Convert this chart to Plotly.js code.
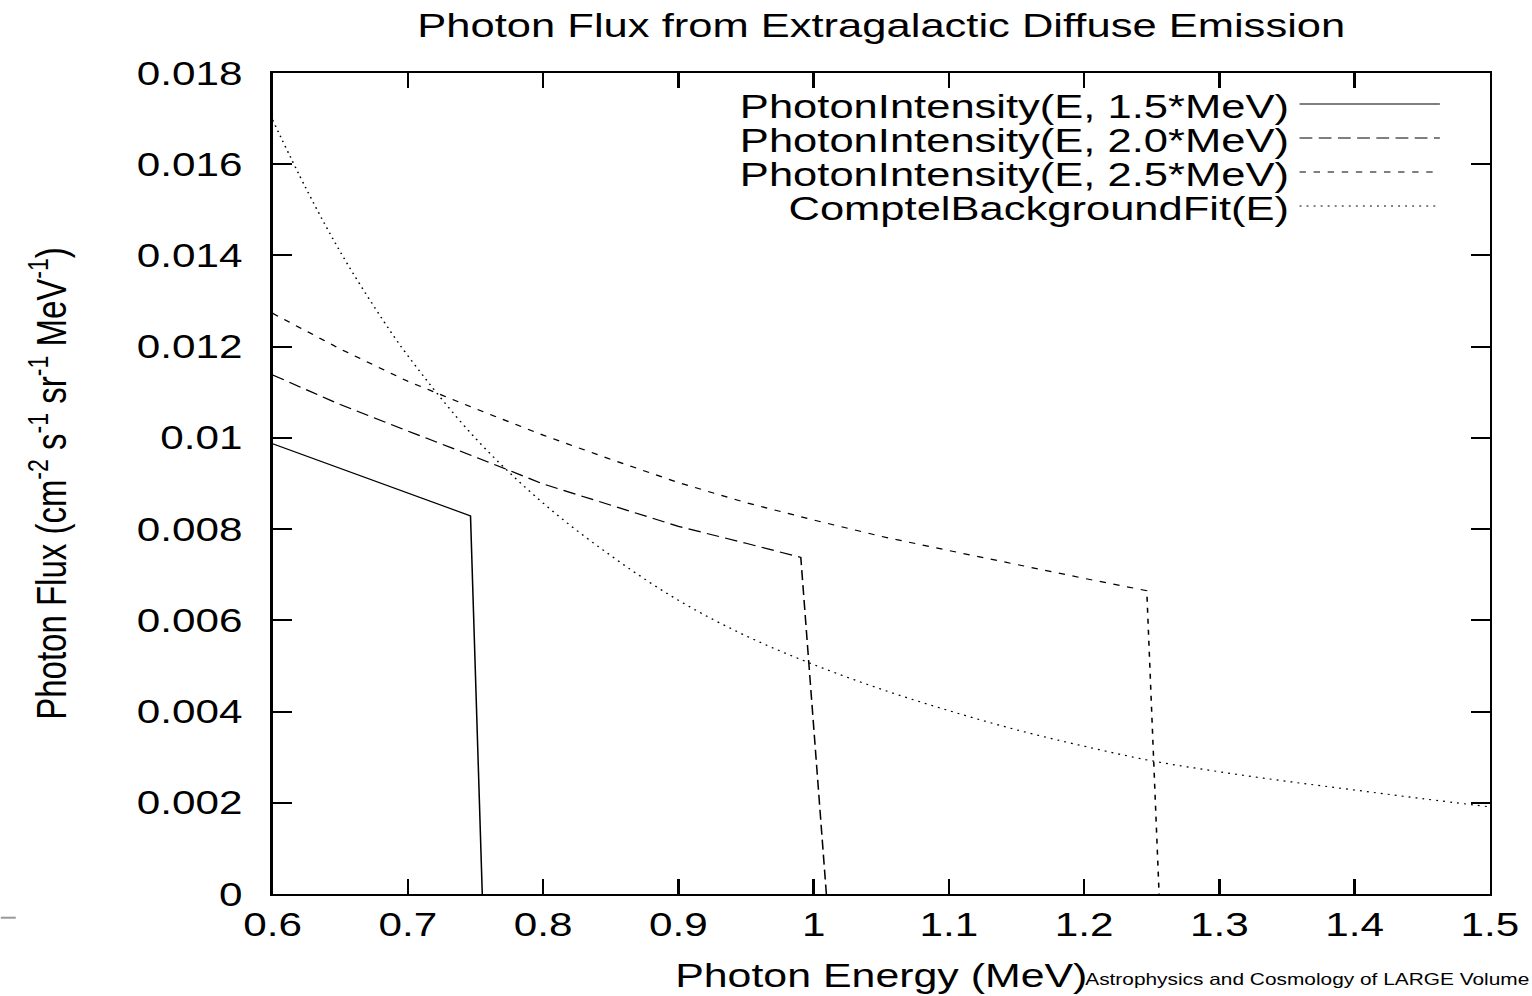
<!DOCTYPE html>
<html>
<head>
<meta charset="utf-8">
<script src="https://cdn.plot.ly/plotly-3.0.1.min.js"></script>
<style>
html, body { margin: 0; padding: 0; background: #fff; overflow: hidden; }
#wrap { width: 1532px; height: 996px; overflow: hidden; position: relative; }
#chart { width: 1197px; height: 996px; transform: scaleX(1.28); transform-origin: 0 0; }
</style>
</head>
<body>
<div id="wrap"><div id="chart"></div></div>
<script>
// ---- data ----
const seriesNames = [
  'PhotonIntensity(E, 1.5*MeV)',
  'PhotonIntensity(E, 2.0*MeV)',
  'PhotonIntensity(E, 2.5*MeV)',
  'ComptelBackgroundFit(E)'
];
const energy15 = [0.6, 0.65, 0.7, 0.7463, 0.755];
const flux15   = [0.00987, 0.00933, 0.00878, 0.00829, 0];

const energy20 = [0.6, 0.65, 0.7, 0.75, 0.8, 0.85, 0.9, 0.95, 0.9905, 1.0094];
const flux20   = [0.01138, 0.01073, 0.01015, 0.00958, 0.00899, 0.00853, 0.00806, 0.00769, 0.00738, 0];

const energy25 = [0.6, 0.65, 0.7, 0.75, 0.8, 0.85, 0.9, 0.95, 1.0, 1.05, 1.1, 1.15, 1.2, 1.2463, 1.2554];
const flux25   = [0.01273, 0.01195, 0.01124, 0.01064, 0.01006, 0.00953, 0.00902, 0.00858, 0.00820, 0.00784, 0.00753, 0.00722, 0.00692, 0.00665, 0];

const energyBg = [0.6, 0.625, 0.65, 0.675, 0.7, 0.75, 0.8, 0.85, 0.9, 0.95, 1.0, 1.05, 1.1, 1.15, 1.2, 1.25, 1.3, 1.35, 1.4, 1.45, 1.5];
const fluxBg   = [0.01697, 0.01545, 0.01408, 0.01288, 0.01180, 0.00999, 0.00857, 0.00742, 0.00644, 0.00566, 0.00503, 0.00449, 0.00402, 0.00360, 0.00324, 0.00292, 0.00268, 0.00247, 0.00228, 0.00209, 0.00191];

const xTickVals = [0.6, 0.7, 0.8, 0.9, 1.0, 1.1, 1.2, 1.3, 1.4, 1.5];
const xTickText = ['0.6', '0.7', '0.8', '0.9', '1', '1.1', '1.2', '1.3', '1.4', '1.5'];
const yTickVals = [0, 0.002, 0.004, 0.006, 0.008, 0.01, 0.012, 0.014, 0.016, 0.018];
const yTickText = ['0', '0.002', '0.004', '0.006', '0.008', '0.01', '0.012', '0.014', '0.016', '0.018'];

const chartTitle = 'Photon Flux from Extragalactic Diffuse Emission';
const xTitle = 'Photon Energy (MeV)';
const yTitle = 'Photon Flux (cm<sup>-2</sup> s<sup>-1</sup> sr<sup>-1</sup> MeV<sup>-1</sup>)';
const footerText = 'Astrophysics and Cosmology of LARGE Volume';

// ---- styles ----
const FONT = 'Liberation Sans, Arial, Helvetica, sans-serif';
const dashes = ['solid', '10px,5px', '5px,6px', '1.5px,4px'];
const shapesKind = ['linear', 'linear', 'linear', 'spline'];
const xs = [energy15, energy20, energy25, energyBg];
const ys = [flux15, flux20, flux25, fluxBg];

const traces = xs.map((x, i) => ({
  type: 'scatter', mode: 'lines', x: x, y: ys[i], name: seriesNames[i],
  showlegend: false, hoverinfo: 'skip',
  line: { color: '#000', width: 1.2, dash: dashes[i], shape: shapesKind[i], smoothing: 1 }
}));

// legend drawn with the samples to the right of the labels (like gnuplot)
const plotTop = 73, plotBottom = 894;
const rowPx = [104, 138, 172, 206];
const toPaperY = p => (plotBottom - p) / (plotBottom - plotTop);
const annotations = seriesNames.map((n, i) => ({
  xref: 'paper', yref: 'paper', x: 0.8375, y: toPaperY(rowPx[i] + 2),
  xanchor: 'right', yanchor: 'middle', showarrow: false, text: n,
  font: { family: FONT, size: 34, color: '#000' }
}));
annotations.push({
  xref: 'paper', yref: 'paper', x: 0.6655, y: toPaperY(979),
  xanchor: 'left', yanchor: 'middle', showarrow: false, text: footerText,
  font: { family: FONT, size: 16.3, color: '#000' }
});
const shapes = seriesNames.map((n, i) => ({
  type: 'line', xref: 'paper', yref: 'paper',
  x0: 0.8436, x1: 0.9589, y0: toPaperY(rowPx[i]), y1: toPaperY(rowPx[i]),
  line: { color: '#000', width: 1.2, dash: dashes[i] }
}));
shapes.push({
  type: 'line', xref: 'paper', yref: 'paper',
  x0: -0.2233, x1: -0.211, y0: toPaperY(917.7), y1: toPaperY(917.7),
  line: { color: '#999', width: 2 }
});

const axisCommon = {
  showline: true, linecolor: '#000', linewidth: 2, mirror: 'allticks',
  ticks: 'inside', ticklen: 15, tickwidth: 2, tickcolor: '#000',
  showgrid: false, zeroline: false, tickmode: 'array',
  tickfont: { family: FONT, size: 33, color: '#000' }
};

const layout = {
  width: 1197, height: 996,
  paper_bgcolor: '#fff', plot_bgcolor: '#fff',
  margin: { l: 212.5, r: 32.8, t: 73, b: 102 },
  font: { family: FONT, color: '#000' },
  title: {
    text: chartTitle, xref: 'paper', x: 0.5, xanchor: 'center',
    yref: 'container', y: 1 - 25 / 996, yanchor: 'middle',
    font: { family: FONT, size: 34, color: '#000' }
  },
  xaxis: Object.assign({}, axisCommon, {
    range: [0.6, 1.5], tickvals: xTickVals, ticktext: xTickText,
    title: { text: xTitle, standoff: 22, font: { family: FONT, size: 33.5, color: '#000' } }
  }),
  yaxis: Object.assign({}, axisCommon, {
    range: [0, 0.018], tickvals: yTickVals, ticktext: yTickText,
    ticklabelstandoff: 15,
    title: { text: yTitle, standoff: 45, font: { family: FONT, size: 33, color: '#000' } }
  }),
  annotations: annotations,
  shapes: shapes,
  showlegend: false
};

Plotly.newPlot('chart', traces, layout, { displayModeBar: false, staticPlot: true });
</script>
</body>
</html>
